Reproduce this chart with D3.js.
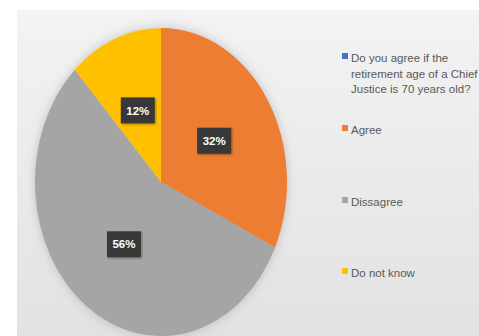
<!DOCTYPE html>
<html>
<head>
<meta charset="utf-8">
<script src="https://cdn.jsdelivr.net/npm/d3@7"></script>
<style>
  html, body { margin: 0; padding: 0; background: #ffffff; }
  svg { display: block; }
</style>
</head>
<body>
<svg id="chart" width="479" height="336"></svg>
<script>
// Survey answers
const categories = ["Agree", "Dissagree", "Do not know"];
const values = [32, 56, 12];
const sliceColors = ["#ED7D31", "#A5A5A5", "#FFC000"];
const seriesLines = ["Do you agree if the", "retirement age of a Chief", "Justice is 70 years old?"];
const seriesColor = "#4472C4";

const svg = d3.select("#chart");
const W = 479, H = 336;

const defs = svg.append("defs");
const bg = defs.append("linearGradient").attr("id", "panelGrad")
  .attr("x1", 0).attr("y1", 0).attr("x2", 0).attr("y2", 1);
bg.append("stop").attr("offset", "0%").attr("stop-color", "#f3f3f3");
bg.append("stop").attr("offset", "100%").attr("stop-color", "#e2e2e2");

const shadow = defs.append("filter").attr("id", "pieShadow")
  .attr("x", "-20%").attr("y", "-20%").attr("width", "140%").attr("height", "140%");
shadow.append("feGaussianBlur").attr("in", "SourceAlpha").attr("stdDeviation", 5).attr("result", "b");
shadow.append("feFlood").attr("flood-color", "#9a9a9a").attr("flood-opacity", 0.55);
shadow.append("feComposite").attr("in2", "b").attr("operator", "in").attr("result", "s");
const merge = shadow.append("feMerge");
merge.append("feMergeNode").attr("in", "s");
merge.append("feMergeNode").attr("in", "SourceGraphic");

const lblShadow = defs.append("filter").attr("id", "lblShadow")
  .attr("x", "-30%").attr("y", "-30%").attr("width", "160%").attr("height", "160%");
lblShadow.append("feDropShadow").attr("dx", 1).attr("dy", 1).attr("stdDeviation", 1)
  .attr("flood-color", "#000").attr("flood-opacity", 0.35);

// Background panel
svg.append("rect").attr("x", 17).attr("y", 10).attr("width", W - 17).attr("height", H - 10)
  .attr("fill", "url(#panelGrad)");

// Pie (drawn as a circle, stretched vertically into an ellipse)
const cx = 161, cy = 182, rx = 126, ry = 154;
const sy = ry / rx;

const pie = d3.pie().sort(null).value(d => d);
const arcs = pie(values);
const arc = d3.arc().innerRadius(0).outerRadius(rx);

const pieG = svg.append("g")
  .attr("transform", `translate(${cx},${cy}) scale(1,${sy})`)
  .attr("filter", "url(#pieShadow)");

pieG.selectAll("path").data(arcs).join("path")
  .attr("d", arc)
  .attr("fill", (d, i) => sliceColors[i]);

// Data labels
const font = "'Liberation Sans', Arial, sans-serif";
const fmt = v => v + "%";
const labels = svg.append("g");
arcs.forEach((d, i) => {
  const [x, y] = arc.centroid(d);
  const px = cx + x, py = cy + y * sy;
  const g = labels.append("g").attr("transform", `translate(${px},${py})`);
  g.append("rect").attr("x", -17).attr("y", -13).attr("width", 34).attr("height", 26)
    .attr("fill", "#383838").attr("filter", "url(#lblShadow)");
  g.append("text").attr("text-anchor", "middle").attr("dy", "0.36em")
    .attr("font-family", font)
    .attr("font-weight", "bold").attr("font-size", 11.5)
    .attr("fill", "#ffffff").text(fmt(values[i]));
});

// Legend
const legendX = 342;
const lg = svg.append("g").attr("font-family", font).attr("font-size", 11.5).attr("fill", "#595959");

const legendItems = [
  { color: seriesColor, lines: seriesLines, y: 58 },
  { color: sliceColors[0], lines: [categories[0]], y: 130 },
  { color: sliceColors[1], lines: [categories[1]], y: 202 },
  { color: sliceColors[2], lines: [categories[2]], y: 273 }
];

legendItems.forEach(item => {
  lg.append("rect").attr("x", legendX).attr("y", item.y - 5).attr("width", 6).attr("height", 6)
    .attr("fill", item.color);
  item.lines.forEach((t, j) => {
    lg.append("text").attr("x", legendX + 9).attr("y", item.y + j * 15.5)
      .attr("dy", "0.35em").text(t);
  });
});
</script>
</body>
</html>
